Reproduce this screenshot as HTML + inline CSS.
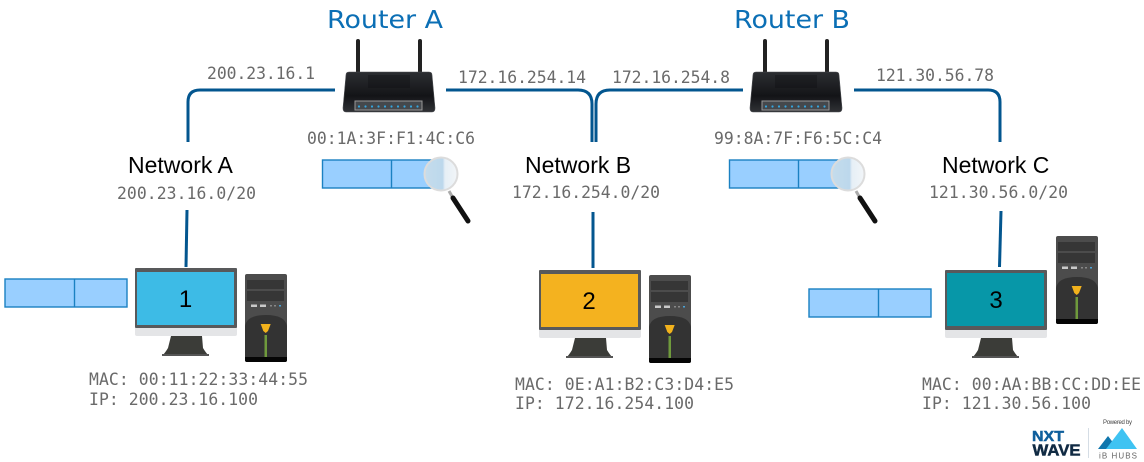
<!DOCTYPE html>
<html><head><meta charset="utf-8">
<style>
html,body{margin:0;padding:0;background:#fff}
svg{display:block}
.m{font-family:"DejaVu Sans Mono","Liberation Mono",monospace;font-size:16.4px;fill:#6a6a6a}
.n{font-family:"Liberation Sans",sans-serif;font-size:23px;fill:#000}
.r{font-family:"DejaVu Sans","Liberation Sans",sans-serif;font-size:24.5px;fill:#0b6fb5}
.d{font-family:"Liberation Sans",sans-serif;font-size:24px;fill:#000;text-anchor:middle}
</style></head><body>
<svg width="1144" height="462" viewBox="0 0 1144 462" xmlns="http://www.w3.org/2000/svg">
<defs>
<linearGradient id="rg" x1="0" y1="0" x2="0" y2="1"><stop offset="0" stop-color="#2c2e32"/><stop offset=".6" stop-color="#131417"/><stop offset="1" stop-color="#303236"/></linearGradient>
<linearGradient id="lens" x1="0" y1="0" x2="1" y2="0"><stop offset="0" stop-color="#c5dcec"/><stop offset=".55" stop-color="#bcd8ec"/><stop offset=".62" stop-color="#e6eff6"/><stop offset="1" stop-color="#f2f5f8"/></linearGradient>
<g id="router">
<rect x="13" y="0" width="4" height="36" rx="2" fill="#222"/>
<rect x="75" y="0" width="4" height="36" rx="2" fill="#222"/>
<path d="M6 33H86Q89 33 89 36L92 69Q92 73 89 73H3Q0 73 0 69L3 36Q3 33 6 33Z" fill="url(#rg)" stroke="#4a4c50" stroke-width=".6"/>
<rect x="25" y="36" width="42" height="13" fill="#0a0a0c" opacity=".3"/>
<rect x="12" y="62" width="67" height="9" fill="#45484c" stroke="#999" stroke-width="1"/>
<g fill="#35a7e0"><circle cx="16" cy="67.500" r="1.100"/><circle cx="22.500" cy="67.500" r="1.100"/><circle cx="29" cy="67.500" r="1.100"/><circle cx="35.500" cy="67.500" r="1.100"/><circle cx="42" cy="67.500" r="1.100"/><circle cx="48.500" cy="67.500" r="1.100"/><circle cx="55" cy="67.500" r="1.100"/><circle cx="61.500" cy="67.500" r="1.100"/><circle cx="68" cy="67.500" r="1.100"/><circle cx="74.500" cy="67.500" r="1.100"/></g>
</g>
<g id="mag">
<path d="M29 34L33 41" stroke="#aaa" stroke-width="3"/>
<path d="M33 41L48 64" stroke="#111" stroke-width="5" stroke-linecap="round"/>
<circle cx="21" cy="17" r="16.500" fill="url(#lens)" stroke="#dcdcdc" stroke-width="2"/>
</g>
<g id="screenframe">
<path d="M36 68H67L68 80Q71 85 74 88H27Q30 85 33 80Z" fill="#3b3c38"/>
<rect x="27" y="86" width="47" height="2" fill="#555"/>
<path d="M0 56H102V66Q102 68 100 68H2Q0 68 0 66Z" fill="#e4e5e7"/>
<rect x="0" y="0" width="102" height="60" rx="1" fill="#58595b"/>
</g>
<g id="tower">
<rect x="0" y="0" width="42" height="88" rx="2" fill="#4c4c4c"/>
<rect x="2" y="6" width="37" height="9" fill="#363636"/>
<rect x="2" y="17" width="37" height="10" fill="#363636"/>
<rect x="6" y="30.500" width="6" height="2.500" fill="#c9c9c9"/>
<rect x="15" y="30.500" width="6" height="2.500" fill="#c9c9c9"/>
<rect x="25" y="31" width="2" height="1.500" fill="#888"/><rect x="29" y="31" width="2" height="1.500" fill="#888"/><rect x="34" y="31" width="2" height="1.500" fill="#4ba3d8"/>
<path d="M0 52Q2 41 21 41Q40 41 42 52V84H0Z" fill="#333"/>
<path d="M15.700 50H25.700L23 57L20.700 59L18.300 57Z" fill="#f2b21c"/>
<rect x="19.500" y="61" width="2.500" height="22" fill="#6f9a3c"/>
<path d="M0 83H42V86Q42 88 40 88H2Q0 88 0 86Z" fill="#050505"/>
</g>
</defs>

<g fill="none" stroke="#03568f" stroke-width="3">
<path d="M188 142V102Q188 90 200 90H335"/>
<path d="M446 90H578Q592 90 592 104V142"/>
<path d="M743 90H610Q596 90 596 104V142"/>
<path d="M854 90H988Q1000 90 1000 102V142"/>
<path d="M187 210L186 267"/>
<path d="M593 212V268"/>
<path d="M1001 211L999.500 267"/>
</g>

<text class="r" x="327" y="28" textLength="116" lengthAdjust="spacingAndGlyphs">Router A</text>
<text class="r" x="734" y="28" textLength="116" lengthAdjust="spacingAndGlyphs">Router B</text>

<use href="#router" x="343" y="39"/>
<use href="#router" x="750" y="39"/>

<text class="m" x="207" y="79" textLength="108">200.23.16.1</text>
<text class="m" x="458" y="83" textLength="128">172.16.254.14</text>
<text class="m" x="612" y="83" textLength="118">172.16.254.8</text>
<text class="m" x="876" y="81" textLength="118">121.30.56.78</text>
<text class="m" x="307" y="144" textLength="168">00:1A:3F:F1:4C:C6</text>
<text class="m" x="714" y="144" textLength="168">99:8A:7F:F6:5C:C4</text>

<text class="n" x="128" y="173">Network A</text>
<text class="n" x="525" y="173">Network B</text>
<text class="n" x="942" y="173">Network C</text>
<text class="m" x="117" y="199" textLength="139">200.23.16.0/20</text>
<text class="m" x="512" y="198" textLength="148">172.16.254.0/20</text>
<text class="m" x="929" y="198" textLength="139">121.30.56.0/20</text>

<g fill="#99cfff" stroke="#1b81c2" stroke-width="1.400">
<rect x="322.500" y="160" width="123" height="28"/><path d="M391.500 160V188" fill="none"/>
<rect x="729.500" y="160" width="123" height="28"/><path d="M798.500 160V188" fill="none"/>
<rect x="5" y="279" width="122" height="28"/><path d="M74.500 279V307" fill="none"/>
<rect x="809" y="289" width="122" height="28"/><path d="M878.500 289V317" fill="none"/>
</g>
<use href="#mag" x="420" y="157"/>
<use href="#mag" x="827" y="157"/>

<use href="#screenframe" x="135" y="268"/>
<rect x="137" y="272" width="97" height="53" fill="#3dbbe6"/>
<use href="#tower" x="245" y="274"/>
<text class="d" x="185.500" y="307">1</text>

<use href="#screenframe" x="539" y="270"/>
<rect x="541" y="274" width="97" height="53" fill="#f4b21f"/>
<use href="#tower" x="649" y="275"/>
<text class="d" x="589" y="309">2</text>

<use href="#screenframe" x="945" y="270"/>
<rect x="947" y="273" width="97" height="53" fill="#0797a8"/>
<use href="#tower" x="1056" y="236"/>
<text class="d" x="996" y="308">3</text>

<text class="m" x="89" y="385" textLength="219">MAC: 00:11:22:33:44:55</text>
<text class="m" x="89" y="405" textLength="169">IP: 200.23.16.100</text>
<text class="m" x="515" y="390" textLength="219">MAC: 0E:A1:B2:C3:D4:E5</text>
<text class="m" x="515" y="409" textLength="179">IP: 172.16.254.100</text>
<text class="m" x="922" y="390" textLength="219">MAC: 00:AA:BB:CC:DD:EE</text>
<text class="m" x="922" y="409" textLength="169">IP: 121.30.56.100</text>

<text x="1032" y="441" font-family="Liberation Sans,sans-serif" font-weight="700" font-size="15" fill="#0f5f9c" stroke="#0f5f9c" stroke-width=".5" textLength="32" lengthAdjust="spacingAndGlyphs">NXT</text>
<text x="1032.500" y="455.500" font-family="Liberation Sans,sans-serif" font-weight="700" font-size="16" fill="#102a43" stroke="#102a43" stroke-width=".5" textLength="48" lengthAdjust="spacingAndGlyphs">WAVE</text>
<path d="M1088.500 428V458" stroke="#d5dde5" stroke-width="1"/>
<text x="1103" y="424" font-family="Liberation Sans,sans-serif" font-size="6" fill="#444" textLength="29">Powered by</text>
<path d="M1098 449L1108 436L1118 449Z" fill="#0f76ad"/>
<path d="M1106 449L1122 428L1137 449Z" fill="#3fc3f2"/>
<text x="1099" y="458.500" font-family="Liberation Sans,sans-serif" font-size="8" fill="#666" textLength="38">iB HUBS</text>
</svg>
</body></html>
